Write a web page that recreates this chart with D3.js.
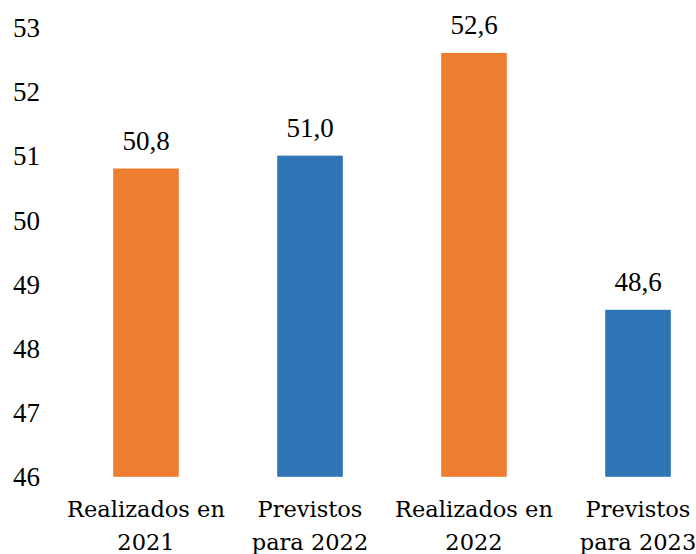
<!DOCTYPE html>
<html>
<head>
<meta charset="utf-8">
<script src="https://cdn.jsdelivr.net/npm/d3@7"></script>
<style>
  html, body { margin: 0; padding: 0; background: #fff; }
  svg { display: block; }
</style>
</head>
<body>
<svg id="chart" width="696" height="554"></svg>
<script>
const categories = [["Realizados en", "2021"], ["Previstos", "para 2022"], ["Realizados en", "2022"], ["Previstos", "para 2023"]];
const values = [50.8, 51.0, 52.6, 48.6];
const valueLabels = ["50,8", "51,0", "52,6", "48,6"];
const barColors = ["#ED7D31", "#2E75B6", "#ED7D31", "#2E75B6"];
const yTicks = [46, 47, 48, 49, 50, 51, 52, 53];

const svg = d3.select("#chart");
const x = d3.scaleBand().domain(d3.range(categories.length)).range([64, 720]).paddingInner(0.6).paddingOuter(0.3);
const y = d3.scaleLinear().domain([46, 53]).range([476.8, 27.2]);

const yAxis = svg.append("g").attr("transform", "translate(40,0)")
  .call(d3.axisLeft(y).tickValues(yTicks).tickSize(0).tickPadding(0).tickFormat(d3.format("d")));
yAxis.select(".domain").remove();
yAxis.selectAll("text")
  .attr("font-family", "'Liberation Serif', 'Times New Roman', serif")
  .attr("font-size", 27).attr("fill", "#000").attr("dy", "0.34em");

svg.selectAll("rect.bar").data(values).enter().append("rect")
  .attr("class", "bar")
  .attr("x", (d, i) => x(i))
  .attr("width", x.bandwidth())
  .attr("y", d => y(d))
  .attr("height", d => y(46) - y(d))
  .attr("fill", (d, i) => barColors[i]);

svg.selectAll("text.val").data(values).enter().append("text")
  .attr("class", "val")
  .attr("x", (d, i) => x(i) + x.bandwidth() / 2)
  .attr("y", d => y(d) - 18.5)
  .attr("text-anchor", "middle")
  .attr("font-family", "'Liberation Serif', 'Times New Roman', serif")
  .attr("font-size", 27).attr("fill", "#000")
  .text((d, i) => valueLabels[i]);

const cat = svg.selectAll("text.cat").data(categories).enter().append("text")
  .attr("class", "cat")
  .attr("text-anchor", "middle")
  .attr("font-family", "'DejaVu Serif', serif")
  .attr("font-size", 22.5).attr("fill", "#000");
cat.each(function(d, i) {
  const t = d3.select(this);
  d.forEach((line, j) => {
    t.append("tspan").attr("x", x(i) + x.bandwidth() / 2).attr("y", 517 + j * 33).text(line);
  });
});
</script>
</body>
</html>
